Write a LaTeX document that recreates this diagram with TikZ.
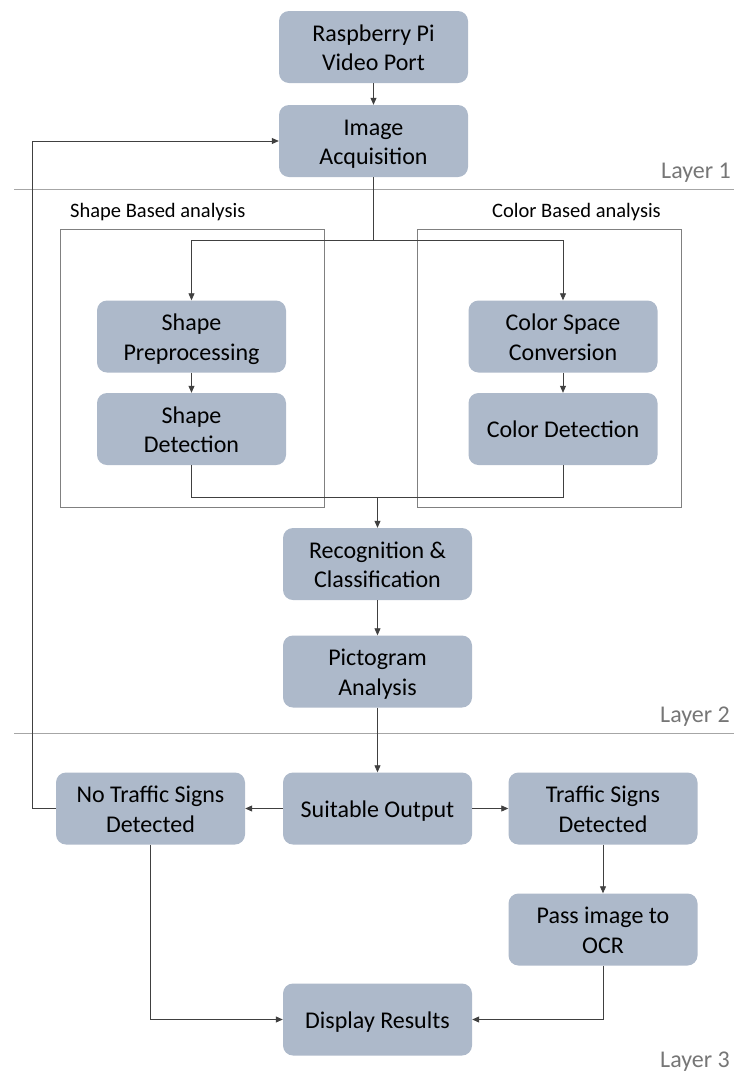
\documentclass[tikz,border=0pt]{standalone}
\usepackage{fontspec}
\setmainfont{Carlito}
\usetikzlibrary{arrows.meta}
\definecolor{boxfill}{HTML}{ADB9CA}
\definecolor{conn}{HTML}{404040}
\definecolor{grp}{HTML}{808080}
\definecolor{sep}{HTML}{A6A6A6}
\definecolor{laytxt}{HTML}{767676}
\newcommand\lnstrut{\rule[-6pt]{0pt}{29.5pt}}
\tikzset{
  procbox/.style={rectangle, rounded corners=10pt, fill=boxfill, draw=none,
    minimum width=189pt, minimum height=72pt, align=center, text=black,
    font=\fontsize{24}{29.5}\selectfont, inner sep=0pt},
  flow/.style={draw=conn, line width=0.8pt, -{Triangle[length=7pt,width=6pt]}},
  plain/.style={draw=conn, line width=0.8pt},
  grpbox/.style={draw=grp, line width=1pt},
  sepline/.style={draw=sep, line width=1pt},
  grplabel/.style={font=\fontsize{20.5}{24}\selectfont, text=black, inner sep=0pt},
  laylabel/.style={font=\fontsize{24}{28}\selectfont, text=laytxt, inner sep=0pt, anchor=base east}
}
\begin{document}
\begin{tikzpicture}[x=1pt,y=-1pt]
\useasboundingbox (0,0) rectangle (734,1077);
% separators
\draw[sepline] (14,189) -- (734,189);
\draw[sepline] (14,733) -- (734,733);
\node[laylabel] (l1) at (731,178) {Layer 1};
\node[laylabel] (l2) at (730,722) {Layer 2};
\node[laylabel] (l3) at (730,1067) {Layer 3};
% group boxes
\draw[grpbox] (60.5,229) rectangle (324,507);
\draw[grpbox] (417,229) rectangle (681,507);
\node[grplabel, anchor=base west] (gl1) at (70,217) {Shape Based analysis};
\node[grplabel, anchor=base west] (gl2) at (492,217) {Color Based analysis};
% nodes
\node[procbox] (rpi) at (373.5,47) {\lnstrut Raspberry Pi\\\lnstrut Video Port};
\node[procbox] (acq) at (373.5,141) {\lnstrut Image\\\lnstrut Acquisition};
\node[procbox] (sprep) at (191.5,336.5) {\lnstrut Shape\\\lnstrut Preprocessing};
\node[procbox] (sdet) at (191.5,429) {\lnstrut Shape\\\lnstrut Detection};
\node[procbox] (cspace) at (563,336.5) {\lnstrut Color Space\\\lnstrut Conversion};
\node[procbox] (cdet) at (563,429) {\lnstrut Color Detection};
\node[procbox] (recog) at (377.5,564) {\lnstrut Recognition \&\\\lnstrut Classification};
\node[procbox] (pict) at (377.5,671.5) {\lnstrut Pictogram\\\lnstrut Analysis};
\node[procbox] (suit) at (377.5,808.5) {\lnstrut Suitable Output};
\node[procbox] (notr) at (150.5,808.5) {\lnstrut No Traffic Signs\\\lnstrut Detected};
\node[procbox] (tr) at (603,808.5) {\lnstrut Traffic Signs\\\lnstrut Detected};
\node[procbox] (ocr) at (603,929.5) {\lnstrut Pass image to\\\lnstrut OCR};
\node[procbox] (disp) at (377.5,1019.5) {\lnstrut Display Results};
% coordinates
\coordinate (split) at (373.5,240);
\coordinate (join) at (377.5,497);
% connectors
\draw[flow] (rpi) -- (acq);
\draw[plain] (acq.south) -- (split);
\draw[flow] (split) -| (sprep.north);
\draw[flow] (split) -| (cspace.north);
\draw[flow] (sprep) -- (sdet);
\draw[flow] (cspace) -- (cdet);
\draw[plain] (sdet.south) |- (join);
\draw[plain] (cdet.south) |- (join);
\draw[flow] (join) -- (recog.north);
\draw[flow] (recog) -- (pict);
\draw[flow] (pict) -- (suit);
\draw[flow] (suit) -- (notr);
\draw[flow] (suit) -- (tr);
\draw[flow] (tr) -- (ocr);
\draw[flow] (notr.west) -- (32,808.5) |- (acq.west);
\draw[flow] (notr.south) |- (disp.west);
\draw[flow] (ocr.south) |- (disp.east);
\end{tikzpicture}
\end{document}
